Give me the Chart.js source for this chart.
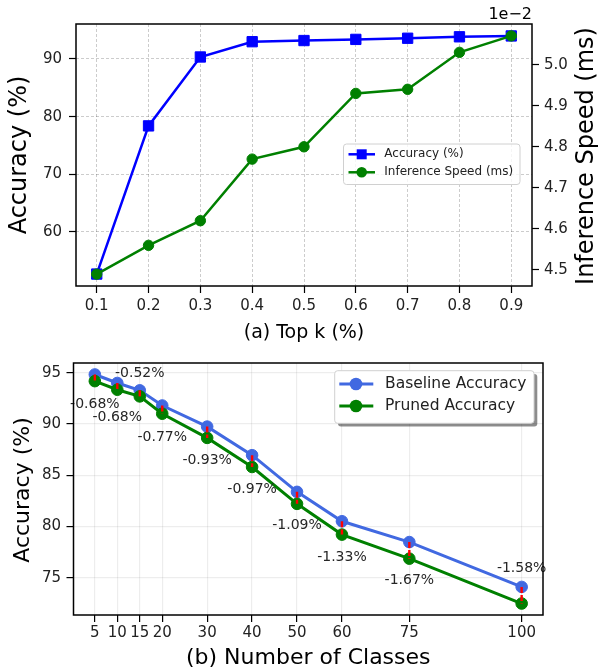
<!DOCTYPE html>
<html><head><meta charset="utf-8">
<script src="https://cdn.jsdelivr.net/npm/chart.js@4/dist/chart.umd.min.js"></script>
<style>
html,body{margin:0;padding:0;background:#fff;}
#wrap{position:relative;width:600px;height:670px;overflow:hidden;}
canvas{position:absolute;left:0;}
</style></head><body>
<div id="wrap">
<canvas id="topChart" width="600" height="345" style="top:0"></canvas>
<canvas id="botChart" width="600" height="325" style="top:345px"></canvas>
</div>
<script>
// ---- data: (a) Top k ----
const topK = [0.1, 0.2, 0.3, 0.4, 0.5, 0.6, 0.7, 0.8, 0.9];
const accuracy = [52.7, 78.4, 90.35, 93.0, 93.2, 93.4, 93.6, 93.85, 94.0];
const inferenceSpeed = [0.0449, 0.0456, 0.0462, 0.0477, 0.0480, 0.0493, 0.0494, 0.0503, 0.0507];
const topAccTicks = [60, 70, 80, 90];
const topSpeedTicks = [0.045, 0.046, 0.047, 0.048, 0.049, 0.050];
// ---- data: (b) Number of classes ----
const classes = [5, 10, 15, 20, 30, 40, 50, 60, 75, 100];
const baselineAcc = [94.83, 94.0, 93.28, 91.8, 89.74, 86.95, 83.37, 80.5, 78.47, 74.09];
const prunedAcc = [94.18, 93.34, 92.69, 91.0, 88.64, 85.8, 82.2, 79.2, 76.85, 72.47];
const dropLabels = ['-0.68%', '-0.68%', '-0.52%', '-0.77%', '-0.93%', '-0.97%', '-1.09%', '-1.33%', '-1.67%', '-1.58%'];
const botAccTicks = [75, 80, 85, 90, 95];

const FONT = '"DejaVu Sans", sans-serif';
Chart.defaults.font.family = FONT;
Chart.defaults.color = '#000';

// label placement (style): anchor 'p' = below pruned point, 'b' = above baseline point; dy in px
const labelPlace = [['p',23],['p',28],['b',-17],['p',23.5],['p',22],['p',22],['p',22],['p',22.5],['p',22],['b',-18.5]];

function setTicks(vals){ return s => { s.ticks = vals.map(v => ({value: v})); }; }

function vtext(ctx, txt, x, y, size){
  ctx.save(); ctx.translate(x, y); ctx.rotate(-Math.PI/2);
  ctx.font = size + 'px ' + FONT; ctx.fillStyle = '#000';
  ctx.textAlign = 'center'; ctx.textBaseline = 'middle';
  ctx.fillText(txt, 0, 0); ctx.restore();
}
function rrect(ctx, x, y, w, h, r){
  ctx.beginPath();
  ctx.moveTo(x+r, y); ctx.lineTo(x+w-r, y); ctx.arcTo(x+w, y, x+w, y+r, r);
  ctx.lineTo(x+w, y+h-r); ctx.arcTo(x+w, y+h, x+w-r, y+h, r);
  ctx.lineTo(x+r, y+h); ctx.arcTo(x, y+h, x, y+h-r, r);
  ctx.lineTo(x, y+r); ctx.arcTo(x, y, x+r, y, r); ctx.closePath();
}

// ---------- top chart ----------
const topPlugin = {
  id: 'topDecor',
  afterDraw(chart){
    const ctx = chart.ctx, a = chart.chartArea;
    ctx.save();
    ctx.strokeStyle = '#000'; ctx.lineWidth = 1.5;
    ctx.strokeRect(a.left, a.top, a.right - a.left, a.bottom - a.top);
    // legend
    rrect(ctx, 343.5, 144, 176.5, 40.5, 3);
    ctx.fillStyle = 'rgba(255,255,255,0.8)'; ctx.fill();
    ctx.strokeStyle = '#d0d0d0'; ctx.lineWidth = 1; ctx.stroke();
    const ds = chart.data.datasets;
    const rows = [154.3, 172.3];
    ds.forEach((d, i) => {
      const y = rows[i];
      ctx.strokeStyle = d.borderColor; ctx.lineWidth = 2.5;
      ctx.beginPath(); ctx.moveTo(348.5, y); ctx.lineTo(375, y); ctx.stroke();
      ctx.fillStyle = d.backgroundColor;
      if (d.pointStyle === 'rect') ctx.fillRect(361.7-5, y-5, 10, 10);
      else { ctx.beginPath(); ctx.arc(361.7, y, 5.3, 0, Math.PI*2); ctx.fill(); }
      ctx.fillStyle = '#222'; ctx.font = '12px ' + FONT;
      ctx.textAlign = 'left'; ctx.textBaseline = 'middle';
      ctx.fillText(d.label, 384.3, y);
    });
    // offset text
    ctx.fillStyle = '#000'; ctx.font = '16px ' + FONT;
    ctx.textAlign = 'right'; ctx.textBaseline = 'alphabetic';
    ctx.fillText('1e\u22122', a.right, 19);
    // titles
    vtext(ctx, 'Accuracy (%)', 20, 155, 24);
    vtext(ctx, 'Inference Speed (ms)', 587, 156, 24);
    ctx.fillStyle = '#000'; ctx.font = '19px ' + FONT;
    ctx.textAlign = 'center'; ctx.textBaseline = 'middle';
    ctx.fillText('(a) Top k (%)', (a.left + a.right)/2, 333);
    ctx.restore();
  }
};

new Chart(document.getElementById('topChart'), {
  type: 'line',
  data: { datasets: [
    { label: 'Accuracy (%)', data: topK.map((x, i) => ({x, y: accuracy[i]})), yAxisID: 'y',
      borderColor: '#0000ff', backgroundColor: '#0000ff', pointBorderColor: '#0000ff', pointStyle: 'rect',
      pointRadius: 7.3, pointBorderWidth: 1, borderWidth: 2.5, tension: 0, order: 1 },
    { label: 'Inference Speed (ms)', data: topK.map((x, i) => ({x, y: inferenceSpeed[i]})), yAxisID: 'y1',
      borderColor: '#008000', backgroundColor: '#008000', pointBorderColor: '#008000', pointStyle: 'circle',
      pointRadius: 5.2, pointBorderWidth: 1, borderWidth: 2.5, tension: 0, order: 0 }
  ]},
  options: {
    responsive: false, animation: false, events: [],
    layout: { padding: { top: 24, left: 0, right: 0, bottom: 0 } },
    plugins: { legend: { display: false }, tooltip: { enabled: false } },
    scales: {
      x: { type: 'linear', min: 0.06, max: 0.94,
        afterBuildTicks: setTicks(topK), afterFit: s => { s.height = 59; },
        ticks: { font: { size: 15 }, color: '#222', padding: 4, maxRotation: 0, autoSkip: false, callback: v => v.toFixed(1) },
        grid: { color: 'rgba(0,0,0,0.25)', lineWidth: 0.8, tickColor: '#000', tickLength: 7, tickWidth: 1.2 },
        border: { display: false, dash: [3, 2] } },
      y: { type: 'linear', position: 'left', min: 50.63, max: 96.07,
        afterBuildTicks: setTicks(topAccTicks), afterFit: s => { s.width = 76; },
        ticks: { font: { size: 15 }, color: '#222', padding: 7, callback: v => String(v) },
        grid: { color: 'rgba(0,0,0,0.25)', lineWidth: 0.8, tickColor: '#000', tickLength: 7, tickWidth: 1.2 },
        border: { display: false, dash: [3, 2] } },
      y1: { type: 'linear', position: 'right', min: 0.04461, max: 0.05099,
        afterBuildTicks: setTicks(topSpeedTicks), afterFit: s => { s.width = 68; },
        ticks: { font: { size: 15 }, color: '#222', padding: 5, callback: v => (v*100).toFixed(1) },
        grid: { drawOnChartArea: false, tickColor: '#000', tickLength: 7, tickWidth: 1.2 },
        border: { display: false } }
    }
  },
  plugins: [topPlugin]
});

// ---------- bottom chart ----------
const botPlugin = {
  id: 'botDecor',
  afterDatasetsDraw(chart){
    const ctx = chart.ctx, xs = chart.scales.x, ys = chart.scales.y;
    ctx.save();
    ctx.strokeStyle = '#ff0000'; ctx.lineWidth = 2.4; ctx.setLineDash([6, 2]);
    classes.forEach((c, i) => {
      const px = xs.getPixelForValue(c);
      ctx.beginPath();
      ctx.moveTo(px, ys.getPixelForValue(baselineAcc[i]));
      ctx.lineTo(px, ys.getPixelForValue(prunedAcc[i]));
      ctx.stroke();
    });
    ctx.setLineDash([]);
    ctx.fillStyle = '#262626'; ctx.font = '14px ' + FONT;
    ctx.textAlign = 'center'; ctx.textBaseline = 'middle';
    classes.forEach((c, i) => {
      const [anchor, dy] = labelPlace[i];
      const py = ys.getPixelForValue(anchor === 'p' ? prunedAcc[i] : baselineAcc[i]);
      ctx.fillText(dropLabels[i], xs.getPixelForValue(c), py + dy);
    });
    ctx.restore();
  },
  afterDraw(chart){
    const ctx = chart.ctx, a = chart.chartArea;
    ctx.save();
    ctx.strokeStyle = '#000'; ctx.lineWidth = 1.5;
    ctx.strokeRect(a.left, a.top, a.right - a.left, a.bottom - a.top);
    // legend with shadow
    rrect(ctx, 334.7 + 3.3, 25.7 + 3.3, 199.3, 52.6, 3);
    ctx.fillStyle = 'rgba(0,0,0,0.45)'; ctx.fill();
    rrect(ctx, 334.7, 25.7, 199.3, 52.6, 3);
    ctx.fillStyle = '#fff'; ctx.fill();
    ctx.strokeStyle = '#d0d0d0'; ctx.lineWidth = 1; ctx.stroke();
    const rows = [39, 61];
    chart.data.datasets.forEach((d, i) => {
      const y = rows[i];
      ctx.strokeStyle = d.borderColor; ctx.lineWidth = 3;
      ctx.beginPath(); ctx.moveTo(339.3, y); ctx.lineTo(373.3, y); ctx.stroke();
      ctx.fillStyle = d.backgroundColor;
      ctx.beginPath(); ctx.arc(356, y, 6.3, 0, Math.PI*2); ctx.fill();
      ctx.fillStyle = '#222'; ctx.font = '15.5px ' + FONT;
      ctx.textAlign = 'left'; ctx.textBaseline = 'middle';
      ctx.fillText(d.label, 385, y);
    });
    vtext(ctx, 'Accuracy (%)', 23.5, 145, 22);
    ctx.fillStyle = '#000'; ctx.font = '22px ' + FONT;
    ctx.textAlign = 'center'; ctx.textBaseline = 'middle';
    ctx.fillText('(b) Number of Classes', (a.left + a.right)/2, 313);
    ctx.restore();
  }
};

new Chart(document.getElementById('botChart'), {
  type: 'line',
  data: { datasets: [
    { label: 'Baseline Accuracy', data: classes.map((x, i) => ({x, y: baselineAcc[i]})),
      borderColor: '#4169e1', backgroundColor: '#4169e1', pointBorderColor: '#4169e1',
      pointRadius: 5.8, pointBorderWidth: 1, borderWidth: 3, tension: 0, order: 1 },
    { label: 'Pruned Accuracy', data: classes.map((x, i) => ({x, y: prunedAcc[i]})),
      borderColor: '#008000', backgroundColor: '#008000', pointBorderColor: '#008000',
      pointRadius: 5.8, pointBorderWidth: 1, borderWidth: 3, tension: 0, order: 0 }
  ]},
  options: {
    responsive: false, animation: false, events: [],
    layout: { padding: { top: 18, left: 0, right: 57, bottom: 0 } },
    plugins: { legend: { display: false }, tooltip: { enabled: false } },
    scales: {
      x: { type: 'linear', min: 0.25, max: 104.75,
        afterBuildTicks: setTicks(classes), afterFit: s => { s.height = 55; },
        ticks: { font: { size: 15 }, color: '#222', padding: 2, maxRotation: 0, autoSkip: false, callback: v => String(v) },
        grid: { color: 'rgba(0,0,0,0.07)', lineWidth: 1.2, tickColor: '#000', tickLength: 7, tickWidth: 1.2 },
        border: { display: false } },
      y: { type: 'linear', min: 71.35, max: 95.95,
        afterBuildTicks: setTicks(botAccTicks), afterFit: s => { s.width = 73.5; },
        ticks: { font: { size: 15 }, color: '#222', padding: 5.5, callback: v => String(v) },
        grid: { color: 'rgba(0,0,0,0.07)', lineWidth: 1.2, tickColor: '#000', tickLength: 7, tickWidth: 1.2 },
        border: { display: false } }
    }
  },
  plugins: [botPlugin]
});
</script>
</body></html>
